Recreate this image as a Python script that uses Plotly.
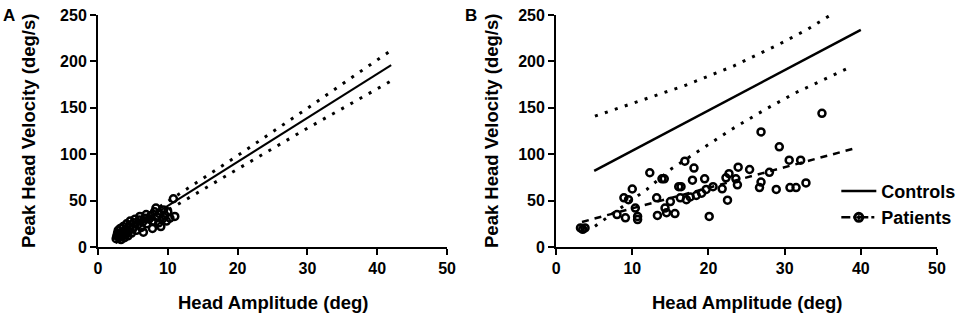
import plotly.graph_objects as go

# ---------------- Panel A data ----------------
a_pts_x = [2.6, 2.7, 2.8, 2.9, 3.0, 3.1, 3.2, 3.3, 3.4, 3.5, 3.6, 3.8, 3.9, 4.0, 4.1,
           4.3, 4.4, 4.5, 4.6, 4.8, 5.0, 5.1, 5.3, 5.5, 5.7, 5.9, 6.0, 6.2, 6.4, 6.7,
           6.9, 7.0, 7.3, 7.6, 7.9, 8.1, 8.3, 8.5, 8.7, 8.8, 9.0, 9.2, 9.4, 9.6, 9.8,
           10.0, 10.3, 10.8, 11.0, 6.5, 7.8]
a_pts_y = [9, 12, 15, 18, 10, 14, 20, 8, 12, 16, 22, 10, 14, 19, 25,
           12, 17, 22, 28, 15, 20, 26, 30, 18, 24, 29, 33, 21, 27, 31,
           35, 25, 30, 34, 28, 38, 42, 32, 26, 36, 22, 30, 40, 34, 28,
           38, 31, 52, 33, 16, 20]

a_fit_x = [2.5, 42]
a_fit_y = [8.8, 196]
a_band_x = [2.5, 10, 20, 30, 42]
a_upper_y = [13, 49, 98.5, 149.5, 212]
a_lower_y = [4.5, 39.5, 84, 128, 179]

# ---------------- Panel B data ----------------
b_pat_x = [3.2, 3.8, 3.5, 8.0, 9.1, 10.7, 10.7, 8.9, 9.5, 10.0, 10.4, 12.3, 13.2, 13.3,
           13.9, 14.2, 14.3, 14.5, 15.0, 15.6, 16.1, 16.4, 16.3, 16.9, 18.1, 17.9, 17.1,
           17.6, 18.4, 19.1, 19.5, 19.7, 20.1, 20.6, 21.8, 22.5, 22.3, 22.7, 23.6, 23.8,
           23.9, 25.4, 26.9, 26.9, 26.7, 28.0, 29.3, 28.9, 30.6, 30.7, 31.5, 32.1, 32.8,
           34.9]
b_pat_y = [20.5, 20.5, 19, 35, 31.5, 33, 29.5, 53, 51, 62.5, 42, 80, 53, 34,
           73.5, 73.5, 42, 37, 49, 36, 65, 65, 53, 92.5, 85, 72, 51,
           54, 55.5, 58, 73.5, 62, 33, 65, 62.7, 50.5, 74.5, 79, 73.5, 67,
           86, 83.5, 124, 70, 64, 80.5, 108, 62, 93.5, 64, 64, 93.5, 69,
           144]

b_ctrl_x = [5, 40]
b_ctrl_y = [82, 234]
b_upper_x = [5.1, 10.4, 16.9, 23.3, 29.4, 33.1, 36.6]
b_upper_y = [141, 156, 174, 195, 219, 235, 253]
b_lower_x = [5.1, 11.9, 15.0, 19.6, 23.0, 27.4, 31.4, 38.9]
b_lower_y = [22.4, 62, 83.5, 108, 126.6, 148, 166, 195]
b_pfit_x = [3.4, 39.5]
b_pfit_y = [27, 107]

x_ticks = [0, 10, 20, 30, 40, 50]
y_ticks = [0, 50, 100, 150, 200, 250]

FONT = "Liberation Sans, Arial, sans-serif"
DOT = "3px,7.5px"

fig = go.Figure()

# Panel A
fig.add_trace(go.Scatter(x=a_band_x, y=a_upper_y, mode="lines", xaxis="x", yaxis="y",
                         line=dict(color="black", width=3, dash=DOT), showlegend=False))
fig.add_trace(go.Scatter(x=a_band_x, y=a_lower_y, mode="lines", xaxis="x", yaxis="y",
                         line=dict(color="black", width=3, dash=DOT), showlegend=False))
fig.add_trace(go.Scatter(x=a_fit_x, y=a_fit_y, mode="lines", xaxis="x", yaxis="y",
                         line=dict(color="black", width=2), showlegend=False))
fig.add_trace(go.Scatter(x=a_pts_x, y=a_pts_y, mode="markers", xaxis="x", yaxis="y",
                         marker=dict(symbol="circle-open", size=7, color="black",
                                     line=dict(width=2.5, color="black")),
                         showlegend=False, cliponaxis=False))

# Panel B
fig.add_trace(go.Scatter(x=b_upper_x, y=b_upper_y, mode="lines", xaxis="x2", yaxis="y2",
                         line=dict(color="black", width=3, dash=DOT), showlegend=False))
fig.add_trace(go.Scatter(x=b_lower_x, y=b_lower_y, mode="lines", xaxis="x2", yaxis="y2",
                         line=dict(color="black", width=3, dash=DOT), showlegend=False))
fig.add_trace(go.Scatter(x=b_ctrl_x, y=b_ctrl_y, mode="lines", xaxis="x2", yaxis="y2",
                         name="Controls", line=dict(color="black", width=2.5)))
fig.add_trace(go.Scatter(x=b_pfit_x, y=b_pfit_y, mode="lines", xaxis="x2", yaxis="y2",
                         line=dict(color="black", width=2.5, dash="7px,6px"), showlegend=False))
fig.add_trace(go.Scatter(x=b_pat_x, y=b_pat_y, mode="markers", xaxis="x2", yaxis="y2",
                         marker=dict(symbol="circle-open", size=7, color="black",
                                     line=dict(width=2.5, color="black")),
                         showlegend=False, cliponaxis=False))
# legend-only entry for patients (line + marker sample)
fig.add_trace(go.Scatter(x=[None], y=[None], mode="lines+markers", xaxis="x2", yaxis="y2",
                         name="Patients",
                         line=dict(color="black", width=2.5, dash="dashdot"),
                         marker=dict(symbol="circle-open-dot", size=8, color="black",
                                     line=dict(width=3, color="black"))))

axis_common = dict(showline=True, linecolor="black", linewidth=2, ticks="outside",
                   ticklen=6, tickwidth=2, tickcolor="black", showgrid=False, zeroline=False,
                   automargin=False,
                   tickfont=dict(family=FONT, size=16, color="black", weight="bold"))

fig.update_layout(
    width=965, height=321,
    margin=dict(l=98, r=28, t=15, b=73.5, autoexpand=False),
    paper_bgcolor="white", plot_bgcolor="white",
    xaxis=dict(domain=[0, 0.416], range=[0, 50], tickvals=x_ticks, anchor="y", **axis_common),
    yaxis=dict(domain=[0, 1], range=[0, 250], tickvals=y_ticks, anchor="x", **axis_common),
    xaxis2=dict(domain=[0.546, 1], range=[0, 50], tickvals=x_ticks, anchor="y2", **axis_common),
    yaxis2=dict(domain=[0, 1], range=[0, 250], tickvals=y_ticks, anchor="x2", **axis_common),
    legend=dict(x=0.880, y=0.32, xanchor="left", yanchor="top", bgcolor="rgba(0,0,0,0)",
                font=dict(family=FONT, size=18, color="black", weight="bold"),
                itemwidth=35, tracegroupgap=2),
    showlegend=True,
)

ann_font = dict(family=FONT, size=18.5, color="black", weight="bold")
annotations = [
    dict(text="Peak Head Velocity (deg/s)", x=-0.0834, y=0.5, textangle=-90),
    dict(text="Peak Head Velocity (deg/s)", x=0.4684, y=0.5, textangle=-90),
    dict(text="Head Amplitude (deg)", x=0.208, y=-0.239),
    dict(text="Head Amplitude (deg)", x=0.773, y=-0.239),
]
for a in annotations:
    fig.add_annotation(xref="paper", yref="paper", showarrow=False, xanchor="center",
                       yanchor="middle", font=ann_font, **a)
fig.add_annotation(text="A", xref="paper", yref="paper", x=-0.106, y=1.0, showarrow=False,
                   xanchor="center", yanchor="middle",
                   font=dict(family=FONT, size=17, color="black", weight="bold"))
fig.add_annotation(text="B", xref="paper", yref="paper", x=0.4445, y=1.0, showarrow=False,
                   xanchor="center", yanchor="middle",
                   font=dict(family=FONT, size=17, color="black", weight="bold"))

# remove the browser's default page margin so the figure fills the window exactly
fig.write_html("out.html", config={"displayModeBar": False},
               post_script="document.body.style.margin='0';document.body.style.overflow='hidden';")
